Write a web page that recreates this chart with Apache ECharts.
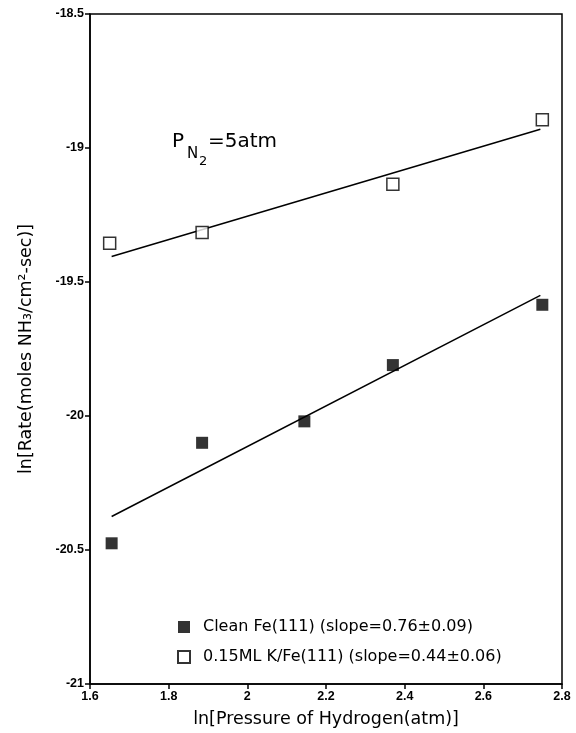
<!DOCTYPE html>
<html>
<head>
<meta charset="utf-8">
<script src="https://cdn.jsdelivr.net/npm/echarts@6/dist/echarts.min.js"></script>
<style>
  html, body { margin: 0; padding: 0; background: #fff; }
  #chart { width: 576px; height: 733px; }
</style>
</head>
<body>
<div id="chart"></div>
<script>
// ln(P_H2) values and ln(rate) values
const cleanX = [1.655, 1.885, 2.145, 2.37, 2.75];
const cleanY = [-20.475, -20.10, -20.02, -19.81, -19.585];
const potX = [1.65, 1.885, 2.37, 2.75];
const potY = [-19.355, -19.315, -19.135, -18.895];
// least-squares lines as drawn (end points)
const cleanFitX = [1.655, 2.745];
const cleanFitY = [-20.375, -19.55];
const potFitX = [1.655, 2.745];
const potFitY = [-19.405, -18.93];

const xTicks = [1.6, 1.8, 2, 2.2, 2.4, 2.6, 2.8];
const yTicks = [-21, -20.5, -20, -19.5, -19, -18.5];

const zip = (xs, ys) => xs.map((x, i) => [x, ys[i]]);

const chart = echarts.init(document.getElementById("chart"));
const textFont = "DejaVu Sans, Liberation Sans, Arial, sans-serif";
const tickFont = {
  color: "#000",
  fontFamily: "Liberation Sans, Arial, sans-serif",
  fontWeight: "bold",
  fontSize: 12.5,
};

chart.setOption({
  animation: false,
  backgroundColor: "#fff",
  grid: {
    left: 90,
    right: 14,
    top: 14,
    bottom: 46,
    show: true,
    borderColor: "#000",
    borderWidth: 1.5,
  },
  xAxis: {
    type: "value",
    min: 1.6,
    max: 2.8,
    interval: 0.2,
    name: "ln[Pressure of Hydrogen(atm)]",
    nameLocation: "middle",
    nameGap: 26,
    nameTextStyle: { color: "#000", fontFamily: textFont, fontSize: 17.5 },
    axisLine: { lineStyle: { color: "#000", width: 1.5 } },
    axisTick: { length: 5, lineStyle: { color: "#000", width: 1.5 } },
    axisLabel: {
      ...tickFont,
      margin: 6,
      formatter: (v) => {
        const t = xTicks.find((x) => Math.abs(x - v) < 1e-6);
        return t === undefined ? "" : String(t);
      },
    },
    splitLine: { show: false },
  },
  yAxis: {
    type: "value",
    min: -21,
    max: -18.5,
    interval: 0.5,
    name: "ln[Rate(moles NH\u2083/cm\u00b2-sec)]",
    nameLocation: "middle",
    nameRotate: 90,
    nameGap: 55,
    nameTextStyle: { color: "#000", fontFamily: textFont, fontSize: 17.5 },
    axisLine: { lineStyle: { color: "#000", width: 1.5 } },
    axisTick: { length: 5, lineStyle: { color: "#000", width: 1.5 } },
    axisLabel: {
      ...tickFont,
      margin: 6,
      formatter: (v) => {
        const t = yTicks.find((y) => Math.abs(y - v) < 1e-6);
        return t === undefined ? "" : String(t);
      },
    },
    splitLine: { show: false },
  },
  legend: {
    orient: "vertical",
    left: 172,
    top: 614,
    itemGap: 14,
    itemWidth: 12,
    itemHeight: 12,
    textStyle: {
      color: "#000",
      fontFamily: textFont,
      fontSize: 16,
      padding: [0, 0, 0, 8],
    },
    data: [
      { name: "Clean Fe(111) (slope=0.76\u00b10.09)", icon: "rect" },
      { name: "0.15ML K/Fe(111) (slope=0.44\u00b10.06)", icon: "rect" },
    ],
  },
  graphic: [
    {
      type: "text",
      left: 172,
      top: 132,
      style: { text: "P", font: "20px " + textFont, fill: "#000" },
    },
    {
      type: "text",
      left: 187,
      top: 147,
      style: { text: "N", font: "15px " + textFont, fill: "#000" },
    },
    {
      type: "text",
      left: 199,
      top: 155,
      style: { text: "2", font: "13px " + textFont, fill: "#000" },
    },
    {
      type: "text",
      left: 208,
      top: 132,
      style: { text: "=5atm", font: "20px " + textFont, fill: "#000" },
    },
  ],
  series: [
    {
      name: "Clean Fe(111) (slope=0.76\u00b10.09)",
      type: "scatter",
      symbol: "rect",
      symbolSize: 12,
      itemStyle: { color: "#000" },
      data: zip(cleanX, cleanY),
      z: 3,
    },
    {
      name: "0.15ML K/Fe(111) (slope=0.44\u00b10.06)",
      type: "scatter",
      symbol: "rect",
      symbolSize: 12,
      itemStyle: { color: "#fff", borderColor: "#000", borderWidth: 1.5 },
      data: zip(potX, potY),
      z: 3,
    },
    {
      type: "line",
      data: zip(cleanFitX, cleanFitY),
      symbol: "none",
      lineStyle: { color: "#000", width: 1.5 },
      z: 2,
    },
    {
      type: "line",
      data: zip(potFitX, potFitY),
      symbol: "none",
      lineStyle: { color: "#000", width: 1.5 },
      z: 2,
    },
  ],
});
</script>
</body>
</html>
